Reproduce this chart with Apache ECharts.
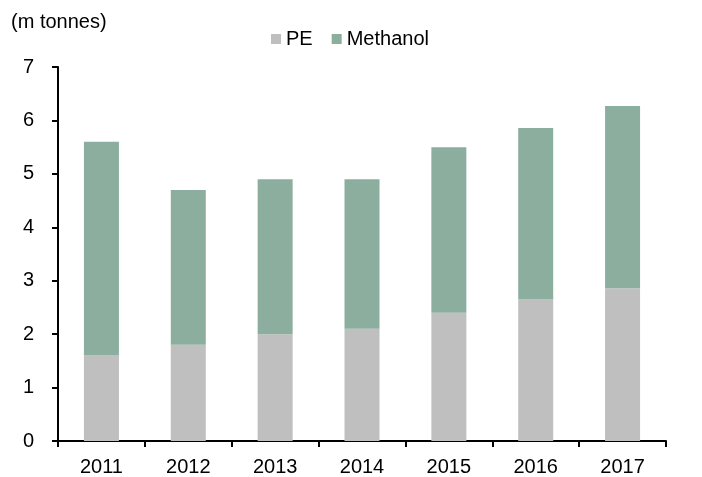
<!DOCTYPE html>
<html>
<head>
<meta charset="utf-8">
<script src="https://cdn.jsdelivr.net/npm/echarts@6/dist/echarts.min.js"></script>
<style>
html,body{margin:0;padding:0;background:#fff;}
#chart{width:702px;height:477px;}
</style>
</head>
<body>
<div id="chart"></div>
<script>
var categories = ['2011','2012','2013','2014','2015','2016','2017'];
var peValues = [1.6, 1.8, 2.0, 2.1, 2.4, 2.65, 2.86];
var methanolValues = [4.0, 2.9, 2.9, 2.8, 3.1, 3.21, 3.41];
var yTicks = [0, 1, 2, 3, 4, 5, 6, 7];

var FONT = '"Liberation Sans", Arial, sans-serif';
var chart = echarts.init(document.getElementById('chart'), null, {renderer:'canvas'});
chart.setOption({
  animation: false,
  backgroundColor: '#fff',
  title: {
    text: '(m tonnes)',
    left: 6, top: 7,
    textStyle: {fontFamily: FONT, fontSize: 20, fontWeight: 'normal', color: '#000'}
  },
  legend: {
    data: ['PE', 'Methanol'],
    left: 266, top: 24,
    itemWidth: 10, itemHeight: 10, itemGap: 19,
    icon: 'rect',
    textStyle: {fontFamily: FONT, fontSize: 20, color: '#000', padding: [0,0,0,0]}
  },
  grid: {left: 58, right: 36, top: 67, bottom: 35, containLabel: false},
  xAxis: {
    type: 'category',
    data: categories,
    boundaryGap: true,
    axisLine: {lineStyle: {color: '#000', width: 2}},
    axisTick: {show: true, alignWithLabel: false, length: 6, lineStyle: {color: '#000', width: 2}},
    axisLabel: {fontFamily: FONT, fontSize: 20, color: '#000', margin: 16}
  },
  yAxis: {
    type: 'value',
    min: yTicks[0], max: yTicks[yTicks.length-1], interval: 1,
    axisLine: {show: true, lineStyle: {color: '#000', width: 2}},
    axisTick: {show: true, length: 6, lineStyle: {color: '#000', width: 2}},
    splitLine: {show: false},
    axisLabel: {fontFamily: FONT, fontSize: 20, color: '#000', margin: 24}
  },
  series: [
    {name: 'PE', type: 'bar', stack: 'total', data: peValues, barWidth: 35,
     itemStyle: {color: '#bfbfbf'}},
    {name: 'Methanol', type: 'bar', stack: 'total', data: methanolValues, barWidth: 35,
     itemStyle: {color: '#8cae9f'}}
  ]
});
</script>
</body>
</html>
